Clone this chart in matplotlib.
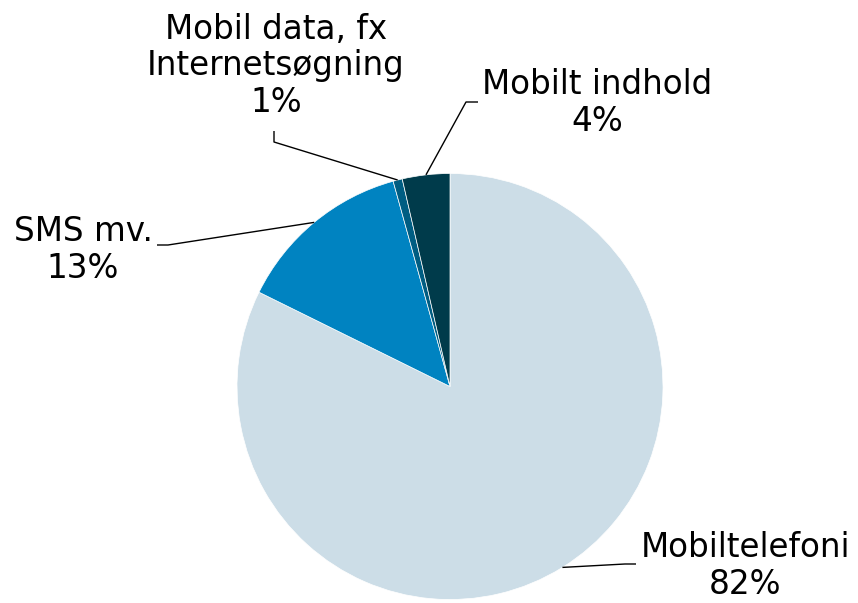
import numpy as np
import matplotlib.pyplot as plt

# data
labels = ['Mobiltelefoni', 'SMS mv.', 'Mobil data, fx\nInternetsøgning', 'Mobilt indhold']
values = [82.3, 13.4, 0.7, 3.6]
colors = ['#CCDDE7', '#0083C1', '#005D82', '#003B4B']

W, H = 858, 603
fig = plt.figure(figsize=(W / 100, H / 100), dpi=100)
ax = fig.add_axes([0, 0, 1, 1])

cx, cy, r = 450, H - 386.5, 213
wedges, _ = ax.pie(values, colors=colors, startangle=90, counterclock=False,
                   center=(cx, cy), radius=r, frame=True,
                   wedgeprops=dict(linewidth=0.5, edgecolor='white'))
ax.set_xlim(0, W)
ax.set_ylim(0, H)
ax.axis('off')

# label text position, elbow, line end (image pixel coords)
label_pos = [(745, 566), (83, 250), (276, 66), (597, 103)]
elbows = [(625, 564), (168, 245), (274, 142), (466, 102)]
ends = [(636, 564), (157, 245), (274, 131), (478, 102)]

for w, v, lab, tp, el, en in zip(wedges, values, labels, label_pos, elbows, ends):
    ang = np.deg2rad((w.theta1 + w.theta2) / 2)
    ex = cx + r * np.cos(ang)
    ey = cy + r * np.sin(ang)
    ax.plot([ex, el[0], en[0]], [ey, H - el[1], H - en[1]], color='black', lw=1.0,
            solid_capstyle='butt')
    ax.text(tp[0], H - tp[1], f"{lab}\n{v:.0f}%", ha='center', va='center',
            fontsize=23.5, family='DejaVu Sans', color='black', linespacing=1.12)

fig.savefig('out.png', dpi=100)
